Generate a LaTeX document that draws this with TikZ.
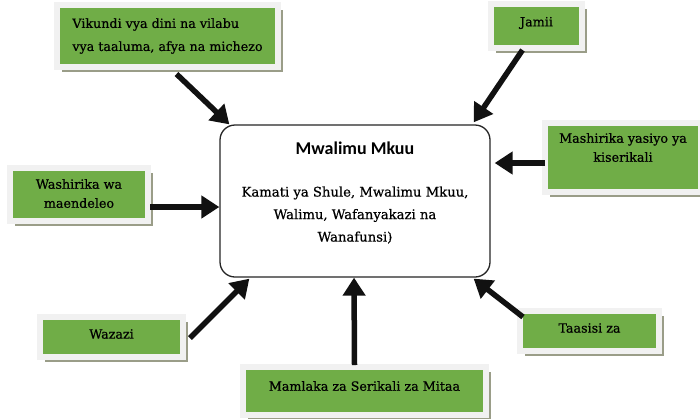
\documentclass[tikz,border=0pt]{standalone}
\usepackage{fontspec}
\setmainfont{DejaVu Serif}
\newfontfamily\titlefont{Carlito}
\newfontfamily\boxfont{DejaVu Serif}[BoldFont={DejaVu Serif}, BoldFeatures={FakeBold=0.6}]
\usetikzlibrary{arrows.meta, calc, shadows}
\definecolor{boxgreen}{HTML}{70AD47}
\definecolor{framegray}{HTML}{F1F1F1}
\definecolor{shadowgray}{HTML}{9A9D88}
\definecolor{arrowblack}{HTML}{111111}
\tikzset{
  % green boxes with a pale frame and a dropped shadow
  partner/.style={
    rectangle,
    fill=boxgreen,
    draw=framegray,
    line width=6pt,
    inner sep=0pt,
    drop shadow={shadow xshift=5pt, shadow yshift=-5pt, fill=shadowgray, opacity=1},
  },
  partnertext/.style={
    align=center,
    font=\boxfont\bfseries\fontsize{12.7}{19}\selectfont,
    text=black,
  },
  headbox/.style={
    rectangle,
    draw=black!85,
    line width=1.3pt,
    rounded corners=15pt,
    fill=white,
    minimum width=270pt,
    minimum height=152pt,
  },
  headtext/.style={
    align=center,
    font=\boxfont\bfseries\fontsize{13.2}{22.5}\selectfont,
  },
  bigarr/.style={-{Triangle[length=18pt, width=22pt]}, line width=5.5pt, draw=arrowblack},
}

\begin{document}
\begin{tikzpicture}[x=1pt, y=-1pt]
  \useasboundingbox[fill=white] (0,0) rectangle (700,418);

  % --- centre ---
  \node[headbox, label={[headtext, yshift=8.5pt]center:{\titlefont\bfseries\fontsize{18}{18}\selectfont Mwalimu Mkuu}\\[20pt]
      Kamati ya Shule, Mwalimu Mkuu,\\Walimu, Wafanyakazi na\\Wanafunsi)}] (mk) at (355,201) {};

  % --- partners ---
  \node[partner, minimum width=221pt, minimum height=62pt,
    label={[partnertext, align=left, yshift=0pt, font=\boxfont\bfseries\fontsize{12.7}{23}\selectfont]center:Vikundi vya dini na vilabu\\vya taaluma, afya na michezo}]
    (vik) at (167.5,36) {};
  \node[partner, minimum width=91pt, minimum height=44pt,
    label={[partnertext, yshift=3pt]center:Jamii}] (jamii) at (536.5,26) {};
  \node[partner, minimum width=156pt, minimum height=69pt,
    label={[partnertext, yshift=10pt]center:Mashirika yasiyo ya\\kiserikali}] (mash) at (623,157.5) {};
  \node[partner, minimum width=138pt, minimum height=53pt,
    label={[partnertext, yshift=1pt]center:Washirika wa\\maendeleo}] (wash) at (79,194.5) {};
  \node[partner, minimum width=143pt, minimum height=40pt,
    label={[partnertext, yshift=3pt]center:Wazazi}] (wazazi) at (111.5,337) {};
  \node[partner, minimum width=243pt, minimum height=48pt,
    label={[partnertext, yshift=5pt]center:Mamlaka za Serikali za Mitaa}] (mamlaka) at (364.5,391) {};
  \node[partner, minimum width=139pt, minimum height=40pt,
    label={[partnertext, yshift=3pt]center:Taasisi za}] (taasisi) at (589.5,331) {};

  % --- arrows ---
  \draw[bigarr] ($(vik.south)+(9,4)$) -- ($(mk.north west)+(10,0)$);
  \draw[bigarr] ($(jamii.south)+(-14,-1)$) -- ($(mk.north east)+(-17,-2)$);
  \draw[bigarr] ($(mash.west)+(3,5.5)$) -- ($(mk.east)+(4,-38)$);
  \draw[bigarr] ($(wash.east)+(-1,12.5)$) -- ($(mk.west)+(0,6)$);
  \draw[bigarr] ($(wazazi.east)+(4,1)$) -- ($(mk.south west)+(30,1)$);
  \draw[bigarr] ($(mamlaka.north)+(-10,1)$) -- ($(mk.south)+(-1,0)$);
  \draw[bigarr] ($(taasisi.north west)+(6,9)$) -- ($(mk.south east)+(-17,1)$);
\end{tikzpicture}
\end{document}
